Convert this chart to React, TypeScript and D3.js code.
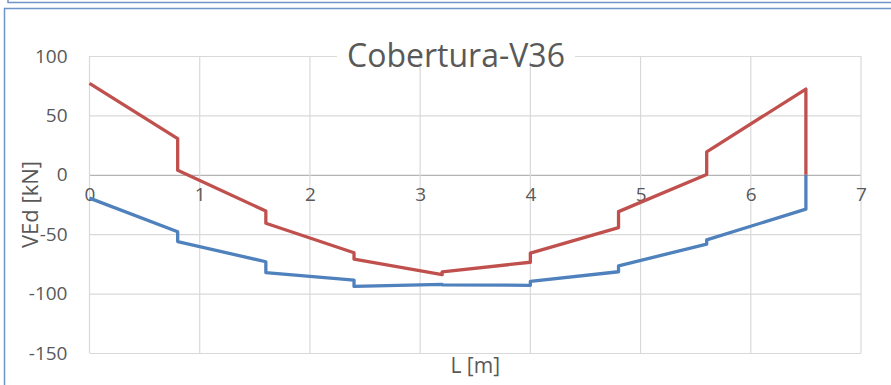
import { useRef, useEffect } from 'react';
import * as d3 from 'd3';

// L [m] positions (steps repeat the abscissa)
const positions = [0, 0.8, 0.8, 1.6, 1.6, 2.4, 2.4, 3.2, 3.2, 4.0, 4.0, 4.8, 4.8, 5.6, 5.6, 6.5, 6.5];
// VEd envelopes [kN]
const vedMax = [77, 30.4, 3.8, -30.5, -40.8, -65.6, -71, -84, -81.8, -73.6, -66, -44.4, -31, 0.2, 19.3, 72.2, 0];
const vedMin = [-19.6, -48, -56.2, -73.2, -82.3, -88.6, -94, -92.3, -92.6, -93, -89.8, -81.6, -76.6, -58.4, -54.8, -28.9, 0];

const xTicks = [0, 1, 2, 3, 4, 5, 6, 7];
const yTicks = [-150, -100, -50, 0, 50, 100];

const title = 'Cobertura-V36';
const xTitle = 'L [m]';
const yTitle = 'VEd [kN]';

const W = 891;
const H = 385;
const margin = { top: 56, right: 30, bottom: 32, left: 89.5 };
const font = '"Open Sans", "Liberation Sans", sans-serif';

function App() {
  const svgRef = useRef<SVGSVGElement>(null);

  useEffect(() => {
    const svg = d3.select(svgRef.current);
    svg.selectAll('*').remove();

    const width = 861 - margin.left;
    const height = 353 - margin.top;

    const x = d3.scaleLinear().domain([0, 7]).range([0, width]);
    const y = d3.scaleLinear().domain([-150, 100]).range([height, 0]);

    svg.append('rect').attr('width', W).attr('height', H).attr('fill', 'white');

    // frames (bottom of the chart above, and this chart's border)
    svg.append('path')
      .attr('d', `M8,0 V2.5 H${W}`)
      .attr('fill', 'none')
      .attr('stroke', '#6f94c8')
      .attr('stroke-width', 1.5);
    svg.append('path')
      .attr('d', `M4.5,${H} V8.5 H${W}`)
      .attr('fill', 'none')
      .attr('stroke', '#6f94c8')
      .attr('stroke-width', 1.5);

    const g = svg.append('g').attr('transform', `translate(${margin.left},${margin.top})`);

    // horizontal grid + y labels
    const yAxis = d3
      .axisLeft(y)
      .tickValues(yTicks)
      .tickSize(-width)
      .tickPadding(22)
      .tickFormat((d) => String(d));
    g.append('g')
      .call(yAxis)
      .call((a) => a.select('.domain').remove())
      .call((a) =>
        a.selectAll('.tick line').attr('stroke', (d) => (d === 0 ? '#b4b4b4' : '#d9d9d9')).attr('stroke-width', 1.2)
      )
      .call((a) =>
        a.selectAll('.tick text').attr('fill', '#595959').style('font-size', '19px').style('font-family', font)
      );

    // vertical grid
    g.append('g')
      .selectAll('line')
      .data(xTicks)
      .enter()
      .append('line')
      .attr('x1', (d) => x(d))
      .attr('x2', (d) => x(d))
      .attr('y1', 0)
      .attr('y2', height)
      .attr('stroke', '#d9d9d9')
      .attr('stroke-width', 1.2);

    // x labels next to zero line
    const xAxis = d3
      .axisBottom(x)
      .tickValues(xTicks)
      .tickSize(0)
      .tickPadding(13)
      .tickFormat((d) => String(d));
    g.append('g')
      .attr('transform', `translate(0,${y(0)})`)
      .call(xAxis)
      .call((a) => a.select('.domain').remove())
      .call((a) =>
        a.selectAll('.tick text').attr('fill', '#595959').style('font-size', '19px').style('font-family', font)
      );

    const line = d3
      .line<number>()
      .x((_, i) => x(positions[i]))
      .y((d) => y(d));

    g.append('path')
      .datum(vedMin)
      .attr('fill', 'none')
      .attr('stroke', '#4f81bd')
      .attr('stroke-width', 3.3)
      .attr('stroke-linejoin', 'round')
      .attr('d', line);

    g.append('path')
      .datum(vedMax)
      .attr('fill', 'none')
      .attr('stroke', '#c0504d')
      .attr('stroke-width', 3.3)
      .attr('stroke-linejoin', 'round')
      .attr('d', line);

    // title with white backing
    const tg = svg.append('g');
    const t = tg
      .append('text')
      .attr('x', 456)
      .attr('y', 67)
      .attr('text-anchor', 'middle')
      .attr('fill', '#595959')
      .style('font-size', '32px')
      .style('font-family', font)
      .text(title);
    const bb = (t.node() as SVGTextElement).getBBox();
    tg.insert('rect', 'text')
      .attr('x', bb.x - 10)
      .attr('y', 50)
      .attr('width', bb.width + 20)
      .attr('height', 12)
      .attr('fill', 'white');

    svg.append('text')
      .attr('x', margin.left + width / 2)
      .attr('y', 373)
      .attr('text-anchor', 'middle')
      .attr('fill', '#595959')
      .style('font-size', '21px')
      .style('font-family', font)
      .text(xTitle);

    svg.append('text')
      .attr('transform', `translate(38,${margin.top + height / 2}) rotate(-90)`)
      .attr('text-anchor', 'middle')
      .attr('fill', '#595959')
      .style('font-size', '22px')
      .style('font-family', font)
      .text(yTitle);
  }, []);

  return (
    <svg
      ref={svgRef}
      width={W}
      height={H}
      style={{ position: 'absolute', left: 0, top: 0, display: 'block' }}
    />
  );
}

export default App;
